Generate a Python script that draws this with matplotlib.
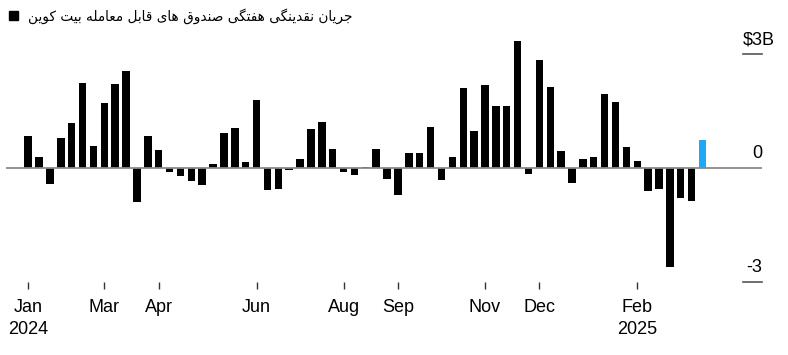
import matplotlib
matplotlib.use('Agg')
import matplotlib.pyplot as plt
import matplotlib.patches as patches
import pandas as pd

title = 'جریان نقدینگی هفتگی صندوق های قابل معامله بیت کوین'

flows = [0.86, 0.31, -0.42, 0.81, 1.18, 2.25, 0.58, 1.71, 2.22, 2.55,
         -0.89, 0.84, 0.48, -0.09, -0.21, -0.33, -0.43, 0.11, 0.94, 1.05,
         0.17, 1.81, -0.58, -0.55, -0.04, 0.24, 1.04, 1.23, 0.52, -0.09,
         -0.17, 0.03, 0.50, -0.28, -0.70, 0.39, 0.39, 1.09, -0.31, 0.31,
         2.11, 0.99, 2.20, 1.63, 1.65, 3.34, -0.14, 2.84, 2.14, 0.45,
         -0.38, 0.24, 0.30, 1.96, 1.75, 0.55, 0.20, -0.60, -0.55, -2.60,
         -0.79, -0.86, 0.74]
weeks = pd.date_range('2024-01-12', periods=len(flows), freq='W-FRI')

tick_dates = pd.to_datetime(['2024-01-12', '2024-03-01', '2024-04-05', '2024-06-07',
                             '2024-08-02', '2024-09-06', '2024-11-01', '2024-12-06',
                             '2025-02-07'])
tick_labels = ['Jan\n2024', 'Mar', 'Apr', 'Jun', 'Aug', 'Sep', 'Nov', 'Dec', 'Feb\n2025']
y_ticks = [3, 0, -3]
y_labels = ['$3B', '0', '-3']


# matplotlib has no arabic shaping, so pick presentation forms by hand
FORMS = {
    'ا': ('\uFE8D', '\uFE8E'), 'د': ('\uFEA9', '\uFEAA'), 'ر': ('\uFEAD', '\uFEAE'),
    'و': ('\uFEED', '\uFEEE'),
    'ب': ('\uFE8F', '\uFE90', '\uFE91', '\uFE92'), 'ت': ('\uFE95', '\uFE96', '\uFE97', '\uFE98'),
    'ج': ('\uFE9D', '\uFE9E', '\uFE9F', '\uFEA0'), 'ص': ('\uFEB9', '\uFEBA', '\uFEBB', '\uFEBC'),
    'ع': ('\uFEC9', '\uFECA', '\uFECB', '\uFECC'), 'ف': ('\uFED1', '\uFED2', '\uFED3', '\uFED4'),
    'ق': ('\uFED5', '\uFED6', '\uFED7', '\uFED8'), 'ل': ('\uFEDD', '\uFEDE', '\uFEDF', '\uFEE0'),
    'م': ('\uFEE1', '\uFEE2', '\uFEE3', '\uFEE4'), 'ن': ('\uFEE5', '\uFEE6', '\uFEE7', '\uFEE8'),
    'ه': ('\uFEE9', '\uFEEA', '\uFEEB', '\uFEEC'), 'ی': ('\uFBFC', '\uFBFD', '\uFBFE', '\uFBFF'),
    'ک': ('\uFB8E', '\uFB8F', '\uFB90', '\uFB91'), 'گ': ('\uFB92', '\uFB93', '\uFB94', '\uFB95'),
}


def shape(text):
    out = []
    for i, ch in enumerate(text):
        if ch not in FORMS:
            out.append(ch)
            continue
        prev = text[i - 1] if i > 0 else ''
        nxt = text[i + 1] if i + 1 < len(text) else ''
        join_prev = prev in FORMS and len(FORMS[prev]) == 4
        join_next = len(FORMS[ch]) == 4 and nxt in FORMS
        f = FORMS[ch]
        if join_prev and join_next:
            out.append(f[3])
        elif join_prev:
            out.append(f[1])
        elif join_next:
            out.append(f[2])
        else:
            out.append(f[0])
    return ''.join(out)[::-1]


plt.rcParams['font.family'] = ['Liberation Sans', 'DejaVu Sans']

fig = plt.figure(figsize=(7.88, 3.55), dpi=100)
ax = fig.add_axes([6 / 788, 1 - 282.3 / 355, 756 / 788, (282.3 - 35.3) / 355])

colors = ['black'] * (len(flows) - 1) + ['#1ea8f5']
ax.bar(weeks, flows, width=4.8, color=colors, zorder=2)

x0 = weeks[0] - pd.Timedelta(days=7 * 2.04)
x1 = weeks[0] + pd.Timedelta(days=7 * 67.47)
ax.set_xlim(x0, x1)
ax.set_ylim(-3, 3.5)

ax.axhline(0, color='#8a8a8a', lw=1.3, zorder=3)
tick_start = weeks[0] + pd.Timedelta(days=7 * 65.72)
for v, lab in zip(y_ticks, y_labels):
    if v != 0:
        ax.plot([tick_start, x1], [v, v], color='#555555', lw=1.2, clip_on=False)
    if lab == '$3B':
        ax.text(tick_start, v + 0.27, lab, ha='left', va='baseline', fontsize=13)
    else:
        ax.text(x1, v + 0.27, lab, ha='right', va='baseline', fontsize=13)

ax.set_xticks(tick_dates)
ax.set_xticklabels(tick_labels, fontsize=13, linespacing=1.4)
ax.tick_params(axis='x', length=5, width=1, color='#333333', pad=7)
ax.set_yticks([])
for s in ax.spines.values():
    s.set_visible(False)

fig.patches.append(patches.Rectangle((9 / 788, 1 - 20 / 355), 9 / 788, 9 / 355,
                                     transform=fig.transFigure, color='black'))
fig.text(28 / 788, 1 - 16 / 355, shape(title), fontsize=9.8, family='DejaVu Sans',
         ha='left', va='center')

fig.savefig('out.png', dpi=100)
